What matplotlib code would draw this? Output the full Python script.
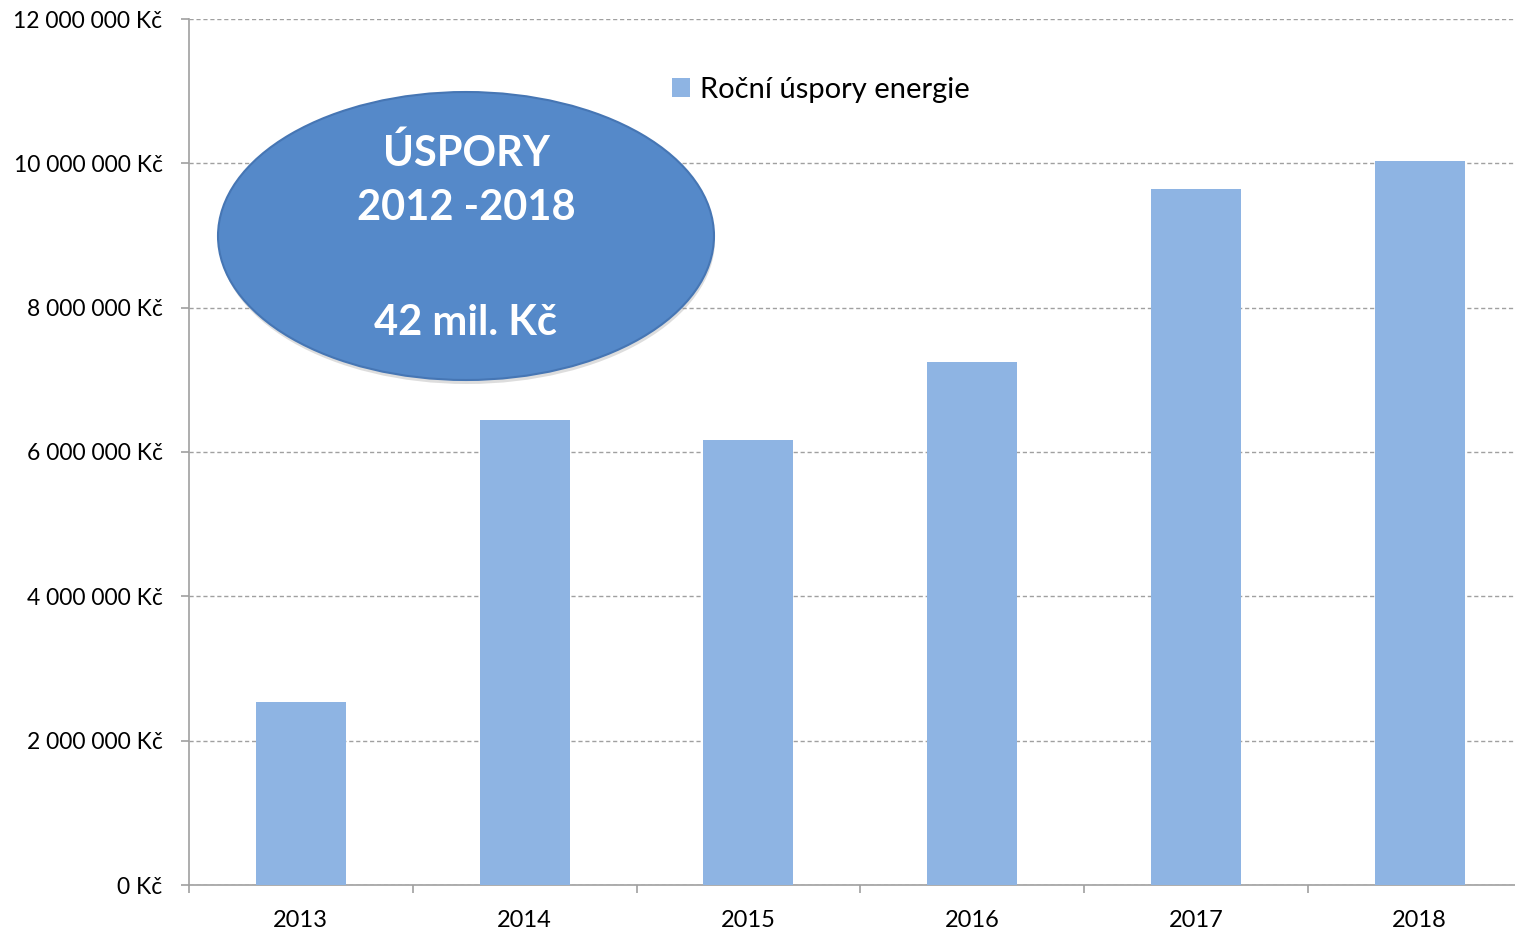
import matplotlib.pyplot as plt
from matplotlib.patches import Ellipse
from matplotlib.ticker import FuncFormatter, FixedLocator
import numpy as np

plt.rcParams['font.family'] = ['Lato', 'DejaVu Sans']

# Data
years = ["2013", "2014", "2015", "2016", "2017", "2018"]
savings = [2530000, 6440000, 6170000, 7250000, 9640000, 10030000]
legend_label = "Roční úspory energie"
bubble_lines = ["ÚSPORY", "2012 -2018", "42 mil. Kč"]

fig = plt.figure(figsize=(15.15, 9.34), dpi=100)
# the plot area runs a little past the right edge of the image, as in the original
ax = fig.add_axes([189 / 1515, 49 / 934, 1342.5 / 1515, 866 / 934])

x = np.arange(len(years))
ax.bar(x, savings, width=0.402, color="#8EB4E3", label=legend_label, zorder=3)

ax.set_xlim(-0.5, len(years) - 0.5)
ax.set_ylim(0, 12000000)
ax.set_yticks(np.arange(0, 12000001, 2000000))
ax.yaxis.set_major_formatter(FuncFormatter(lambda v, _: f"{v:,.0f}".replace(",", " ") + " Kč"))
ax.set_xticks(x)
ax.set_xticklabels(years)
ax.xaxis.set_minor_locator(FixedLocator(np.arange(-0.5, len(years), 1.0)))
ax.tick_params(axis="x", which="major", length=0, pad=18, labelsize=17)
ax.tick_params(axis="x", which="minor", length=6, color="#A0A0A0", width=1.2)
ax.tick_params(axis="y", length=6, color="#A0A0A0", width=1.2, labelsize=16.5, pad=13)

ax.grid(axis="y", linestyle=(0, (3, 2)), color="#A0A0A0", linewidth=1.0, zorder=0)
for side in ["top", "right"]:
    ax.spines[side].set_visible(False)
for side in ["left", "bottom"]:
    ax.spines[side].set_color("#A0A0A0")
    ax.spines[side].set_linewidth(1.2)

ax.legend(loc="center left", bbox_to_anchor=(483 / 1342.5, 1 - 71 / 866), frameon=False,
          fontsize=21, handlelength=0.62, handleheight=0.62, handletextpad=0.35,
          borderpad=0, borderaxespad=0)

# Bubble with summary text
cx, cy = 466 / 1515, 1 - 236 / 934
w, h = 496 / 1515, 288 / 934
shadow = Ellipse((cx + 1 / 1515, cy - 4 / 934), w, h, transform=fig.transFigure,
                 facecolor="#909090", alpha=0.3, edgecolor="none", zorder=5)
fig.patches.append(shadow)
bubble = Ellipse((cx, cy), w, h, transform=fig.transFigure,
                 facecolor="#5589C9", edgecolor="#4676B4", linewidth=1.5, zorder=6)
fig.patches.append(bubble)

for txt, ypix in zip(bubble_lines, [153, 208, 323]):
    fig.text(cx, 1 - ypix / 934, txt, ha="center", va="center", color="white",
             fontsize=30, fontweight="bold", zorder=7)

fig.savefig("out.png", dpi=100)
